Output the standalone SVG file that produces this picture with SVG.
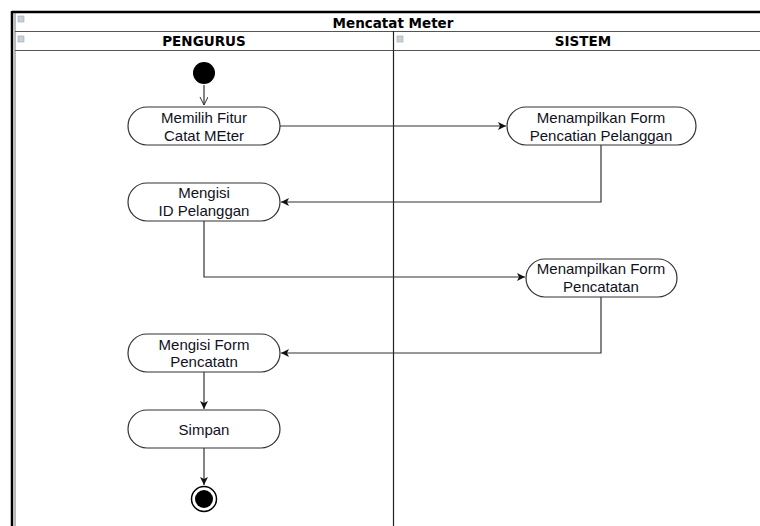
<svg xmlns="http://www.w3.org/2000/svg" width="760" height="526" viewBox="0 0 760 526">
  <style>
    .act { fill: #ffffff; stroke: #333333; stroke-width: 1.2; }
    .lbl { font-family: "Liberation Sans", Arial, sans-serif; font-size: 15px; fill: #111122; text-anchor: middle; }
    .hdr { font-family: "DejaVu Sans", Tahoma, sans-serif; font-weight: bold; font-size: 13.5px; fill: #000000; text-anchor: middle; }
    .edge { fill: none; stroke: #333333; stroke-width: 1.2; }
    .frame { fill: none; stroke: #555555; stroke-width: 1; }
    .icon { fill: #c8d0d8; stroke: #a0a8b0; stroke-width: 0.6; }
  </style>
  <defs>
    <marker id="arrow" markerWidth="10" markerHeight="10" refX="8" refY="4" orient="auto" markerUnits="userSpaceOnUse">
      <path d="M0,0 L8,4 L0,8 L2,4 Z" fill="#111111"/>
    </marker>
    <marker id="open" markerWidth="10" markerHeight="10" refX="8" refY="4" orient="auto" markerUnits="userSpaceOnUse">
      <path d="M0,0 L8,4 L0,8" fill="none" stroke="#333333" stroke-width="1"/>
    </marker>
  </defs>

  <rect width="760" height="526" fill="#ffffff"/>

  <!-- swimlane frame -->
  <g id="frame">
    <line x1="12" y1="12" x2="760" y2="12" stroke="#000000" stroke-width="2.5"/>
    <line x1="12" y1="11" x2="12" y2="526" stroke="#000000" stroke-width="2.5"/>
    <line x1="15" y1="13" x2="15" y2="526" stroke="#777777" stroke-width="1"/>
    <line x1="15" y1="31.5" x2="760" y2="31.5" class="frame"/>
    <line x1="15" y1="50.5" x2="760" y2="50.5" class="frame"/>
    <line x1="393.5" y1="31" x2="393.5" y2="526" stroke="#222222" stroke-width="1.2"/>
    <rect x="18" y="16" width="6" height="6" class="icon"/>
    <rect x="18" y="36" width="6" height="6" class="icon"/>
    <rect x="397" y="36" width="6" height="6" class="icon"/>
    <text x="393" y="27.5" class="hdr" font-size="15.5">Mencatat Meter</text>
    <text x="204" y="46" class="hdr">PENGURUS</text>
    <text x="583" y="46" class="hdr">SISTEM</text>
  </g>

  <!-- connectors -->
  <g id="connectors">
    <line x1="204" y1="85" x2="204" y2="105" class="edge" marker-end="url(#open)"/>
    <line x1="280" y1="126" x2="506" y2="126" class="edge" marker-end="url(#arrow)"/>
    <polyline points="601,145 601,202 281,202" class="edge" marker-end="url(#arrow)"/>
    <polyline points="204,221 204,277 525,277" class="edge" marker-end="url(#arrow)"/>
    <polyline points="601,297 601,353 281,353" class="edge" marker-end="url(#arrow)"/>
    <line x1="204" y1="372" x2="204" y2="409" class="edge" marker-end="url(#arrow)"/>
    <line x1="204" y1="448" x2="204" y2="485" class="edge" marker-end="url(#arrow)"/>
  </g>

  <g id="start">
    <circle cx="204" cy="73" r="11" fill="#000000"/>
  </g>

  <g id="memilih-fitur">
    <rect x="128" y="107" width="152" height="38" rx="19" class="act"/>
    <text x="204" y="123" class="lbl">Memilih Fitur</text>
    <text x="204" y="141" class="lbl">Catat MEter</text>
  </g>

  <g id="tampil-form-pelanggan">
    <rect x="507" y="107" width="189" height="38" rx="19" class="act"/>
    <text x="601" y="123" class="lbl">Menampilkan Form</text>
    <text x="601" y="141" class="lbl">Pencatian Pelanggan</text>
  </g>

  <g id="mengisi-id">
    <rect x="128" y="183" width="152" height="38" rx="19" class="act"/>
    <text x="204" y="198" class="lbl">Mengisi</text>
    <text x="204" y="216" class="lbl">ID Pelanggan</text>
  </g>

  <g id="tampil-form-pencatatan">
    <rect x="526" y="259" width="151" height="38" rx="19" class="act"/>
    <text x="601" y="274" class="lbl">Menampilkan Form</text>
    <text x="601" y="292" class="lbl">Pencatatan</text>
  </g>

  <g id="mengisi-form">
    <rect x="128" y="334" width="152" height="38" rx="19" class="act"/>
    <text x="204" y="350" class="lbl">Mengisi Form</text>
    <text x="204" y="367" class="lbl">Pencatatn</text>
  </g>

  <g id="simpan">
    <rect x="128" y="410" width="152" height="38" rx="19" class="act"/>
    <text x="204" y="435" class="lbl">Simpan</text>
  </g>

  <g id="end">
    <circle cx="204" cy="499" r="12.5" fill="#ffffff" stroke="#000000" stroke-width="1.5"/>
    <circle cx="204" cy="499" r="9" fill="#000000"/>
  </g>
</svg>
